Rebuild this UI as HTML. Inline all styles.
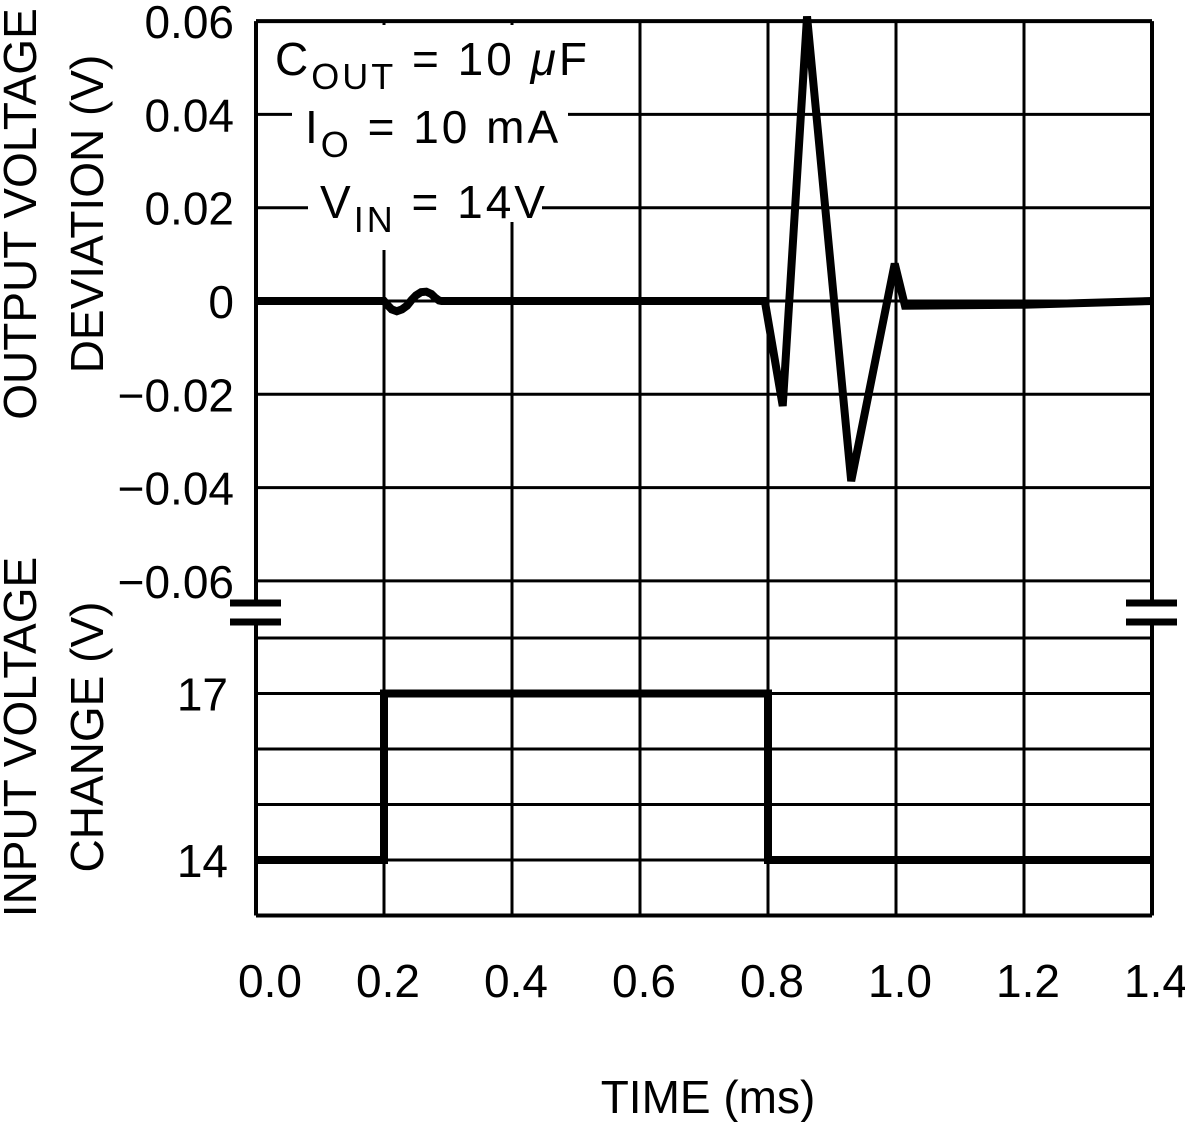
<!DOCTYPE html>
<html><head><meta charset="utf-8"><style>
html,body{margin:0;padding:0;background:#fff;}
svg{display:block;font-family:"Liberation Sans",sans-serif;}
text{fill:#000;}
</style></head><body>
<svg width="1185" height="1122" viewBox="0 0 1185 1122">
<g id="grid"></g>
<g id="plots"></g>
<g id="labels"></g>
<g font-size="46" letter-spacing="3">
  <rect x="262" y="25" width="328" height="71" fill="#fff"/>
  <rect x="292" y="96" width="276" height="66" fill="#fff"/>
  <rect x="308" y="162" width="200" height="88" fill="#fff"/>
  <rect x="508" y="162" width="34" height="60" fill="#fff"/>
  <text x="275" y="75">C<tspan font-size="36" dy="14">OUT</tspan><tspan dy="-14"> = 10 </tspan><tspan font-style="italic">μ</tspan>F</text>
  <text x="305" y="143">I<tspan font-size="36" dy="14">O</tspan><tspan dy="-14"> = 10 mA</tspan></text>
  <text x="320" y="218">V<tspan font-size="36" dy="14">IN</tspan><tspan dy="-14"> = 14V</tspan></text>
</g>
</svg>
<script>
const timeTicks=[0.0,0.2,0.4,0.6,0.8,1.0,1.2,1.4];
const timeTickLabels=["0.0","0.2","0.4","0.6","0.8","1.0","1.2","1.4"];
const devTicks=[0.06,0.04,0.02,0,-0.02,-0.04,-0.06];
const devTickLabels=["0.06","0.04","0.02","0","\u22120.02","\u22120.04","\u22120.06"];
const inTicks=[18,17,16,15,14,13];
const inTickLabels=["","17","","","14",""];
const devTime=[0,0.2,0.205,0.212,0.22,0.228,0.236,0.243,0.25,0.258,0.266,0.274,0.28,0.286,0.29,0.795,0.823,0.861,0.93,0.998,1.014,1.2,1.4];
const devValues=[0,0,-0.0008,-0.0018,-0.0022,-0.0018,-0.001,0.0002,0.0012,0.0019,0.002,0.0015,0.0007,0.0001,0,0,-0.0225,0.061,-0.0386,0.008,-0.001,-0.0008,0];
const inTime=[0,0.2,0.2,0.8,0.8,1.4];
const inValues=[14,14,17,17,14,14];

const NS="http://www.w3.org/2000/svg";
const xS=t=>256+t*640;
const yDev=v=>301-v*4665;
const yIn=v=>860-(v-14)*55.5;
function mk(tag,attrs,parent){const e=document.createElementNS(NS,tag);for(const k in attrs)e.setAttribute(k,attrs[k]);parent.appendChild(e);return e;}
const gridG=document.getElementById('grid'),plotsG=document.getElementById('plots'),labelsG=document.getElementById('labels');
const yTop=yDev(0.06), yBot=yIn(13);
timeTicks.forEach((t,i)=>{
  const l=mk('line',{x1:xS(t),x2:xS(t),y1:yTop,y2:yBot,stroke:'#000','stroke-width':(i==0||i==timeTicks.length-1)?4:3},gridG);
  
  
  const tx=mk('text',{x:(i==0?270:xS(t)+4),y:997,'font-size':46,'text-anchor':'middle'},labelsG);
  tx.textContent=timeTickLabels[i];
  
  
});
devTicks.forEach((v,i)=>{
  const l=mk('line',{x1:256,x2:1152,y1:yDev(v),y2:yDev(v),stroke:'#000','stroke-width':i==0?4:3},gridG);
  
  
  const tx=mk('text',{x:234,y:yDev(v)+17,'font-size':46,'text-anchor':'end'},labelsG);
  tx.textContent=devTickLabels[i];
  
  
});
inTicks.forEach((v,i)=>{
  const l=mk('line',{x1:256,x2:1152,y1:yIn(v),y2:yIn(v),stroke:'#000','stroke-width':i==inTicks.length-1?4:3},gridG);
  
  
  if(inTickLabels[i]){
    const tx=mk('text',{x:228,y:yIn(v)+17,'font-size':46,'text-anchor':'end'},labelsG);
    tx.textContent=inTickLabels[i];
    
    
  }
});
[[256,'left'],[1152,'right']].forEach(([bx,side])=>{
  const r=mk('rect',{x:bx-4,y:606,width:8,height:14,fill:'#fff'},gridG);
  
  
  [603,622].forEach(yy=>{
    const l=mk('line',{x1:bx-26,x2:bx+25,y1:yy,y2:yy,stroke:'#000','stroke-width':7},gridG);
    
    
  });
});
const p1=mk('polyline',{points:devTime.map((t,i)=>xS(t)+','+yDev(devValues[i])).join(' '),fill:'none',stroke:'#000','stroke-width':8,'stroke-linejoin':'miter','stroke-miterlimit':3},plotsG);


const p2=mk('polyline',{points:inTime.map((t,i)=>xS(t)+','+yIn(inValues[i])).join(' '),fill:'none',stroke:'#000','stroke-width':8},plotsG);


function title(txt,tx,ty,name,rot){const e=mk('text',{x:tx,y:ty,'font-size':46,'text-anchor':'middle'},labelsG);if(rot)e.setAttribute('transform',`rotate(-90 ${tx} ${ty})`);e.textContent=txt;return e;}
title('OUTPUT VOLTAGE',36,214,'y-axis-title-top-1',true);
title('DEVIATION (V)',103,214,'y-axis-title-top-2',true);
title('INPUT VOLTAGE',36,737,'y-axis-title-bottom-1',true);
title('CHANGE (V)',103,737,'y-axis-title-bottom-2',true);
title('TIME (ms)',708,1113,'x-axis-title',false);
</script>
</body></html>
